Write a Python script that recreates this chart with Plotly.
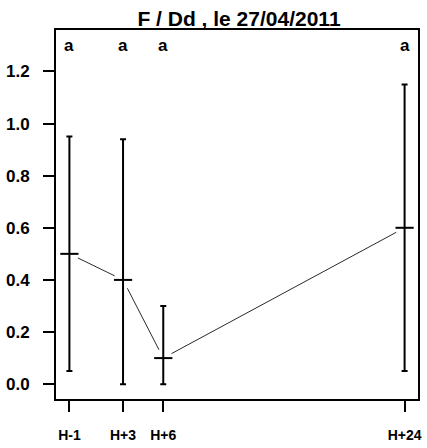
import math
import plotly.graph_objects as go

# Sampling times (hours relative to treatment) and their labels
hours = [-1, 3, 6, 24]
hour_labels = ["H-1", "H+3", "H+6", "H+24"]

# Mean value per time point with lower / upper interval bounds
means = [0.5, 0.4, 0.1, 0.6]
lower = [0.05, 0.0, 0.0, 0.05]
upper = [0.95, 0.94, 0.30, 1.15]

# Statistical group letters
groups = ["a", "a", "a", "a"]

y_ticks = [0.0, 0.2, 0.4, 0.6, 0.8, 1.0, 1.2]
letter_y = 1.3

W, H = 427, 448
M = dict(l=56, r=5, t=30, b=46)
X_RANGE = [-2, 25]
Y_RANGE = [-0.057, 1.359]

TICK_FONT = "Liberation Sans, Arial, sans-serif"
NARROW_FONT = "Liberation Sans Narrow, Liberation Sans, Arial, sans-serif"

plot_w = W - M["l"] - M["r"]
plot_h = H - M["t"] - M["b"]


def to_px(x, y):
    px = (x - X_RANGE[0]) / (X_RANGE[1] - X_RANGE[0]) * plot_w
    py = (y - Y_RANGE[0]) / (Y_RANGE[1] - Y_RANGE[0]) * plot_h
    return px, py


def to_data(px, py):
    x = X_RANGE[0] + px / plot_w * (X_RANGE[1] - X_RANGE[0])
    y = Y_RANGE[0] + py / plot_h * (Y_RANGE[1] - Y_RANGE[0])
    return x, y


# Connecting line between means, leaving a gap around each point ("both" style)
gap = 9.5
seg_x, seg_y = [], []
for i in range(len(hours) - 1):
    ax, ay = to_px(hours[i], means[i])
    bx, by = to_px(hours[i + 1], means[i + 1])
    d = math.hypot(bx - ax, by - ay)
    ux, uy = (bx - ax) / d, (by - ay) / d
    sx, sy = to_data(ax + ux * gap, ay + uy * gap)
    ex, ey = to_data(bx - ux * gap, by - uy * gap)
    seg_x += [sx, ex, None]
    seg_y += [sy, ey, None]

fig = go.Figure()

fig.add_trace(go.Scatter(
    x=seg_x, y=seg_y, mode="lines",
    line=dict(color="#2a2a2a", width=1),
    hoverinfo="skip", showlegend=False,
))

# Means with asymmetric interval bars
fig.add_trace(go.Scatter(
    x=hours, y=means, mode="markers",
    marker=dict(symbol="line-ew", size=13, line=dict(color="black", width=2)),
    error_y=dict(
        type="data", symmetric=False,
        array=[u - m for u, m in zip(upper, means)],
        arrayminus=[m - l for m, l in zip(means, lower)],
        color="black", thickness=2, width=3,
    ),
    showlegend=False,
))

for h, g in zip(hours, groups):
    fig.add_annotation(
        x=h, y=letter_y, text="<b>" + g + "</b>", showarrow=False,
        font=dict(family=NARROW_FONT, size=17, color="black"),
        xanchor="center", yanchor="middle",
    )

fig.update_layout(
    width=W, height=H,
    margin=M,
    paper_bgcolor="white", plot_bgcolor="white",
    title=dict(
        text="<b>F / Dd , le 27/04/2011</b>",
        x=(M["l"] + plot_w / 2) / W, xanchor="center",
        y=1 - 19 / H, yanchor="middle",
        font=dict(family=TICK_FONT, size=21, color="black"),
    ),
    xaxis=dict(
        range=X_RANGE, showgrid=False, zeroline=False,
        tickmode="array", tickvals=hours,
        ticktext=["<b>" + t + "</b>" for t in hour_labels],
        ticks="outside", ticklen=11, tickwidth=2, tickcolor="black",
        ticklabelstandoff=11,
        tickfont=dict(family=TICK_FONT, size=14, color="black"),
        showline=True, mirror=True, linecolor="black", linewidth=2,
    ),
    yaxis=dict(
        range=Y_RANGE, showgrid=False, zeroline=False,
        tickmode="array", tickvals=y_ticks,
        ticktext=["<b>%.1f</b>" % v for v in y_ticks],
        ticks="outside", ticklen=11, tickwidth=2, tickcolor="black",
        ticklabelstandoff=10,
        tickfont=dict(family=TICK_FONT, size=17, color="black"),
        showline=True, mirror=True, linecolor="black", linewidth=2,
    ),
)

fig.write_html("out.html")
